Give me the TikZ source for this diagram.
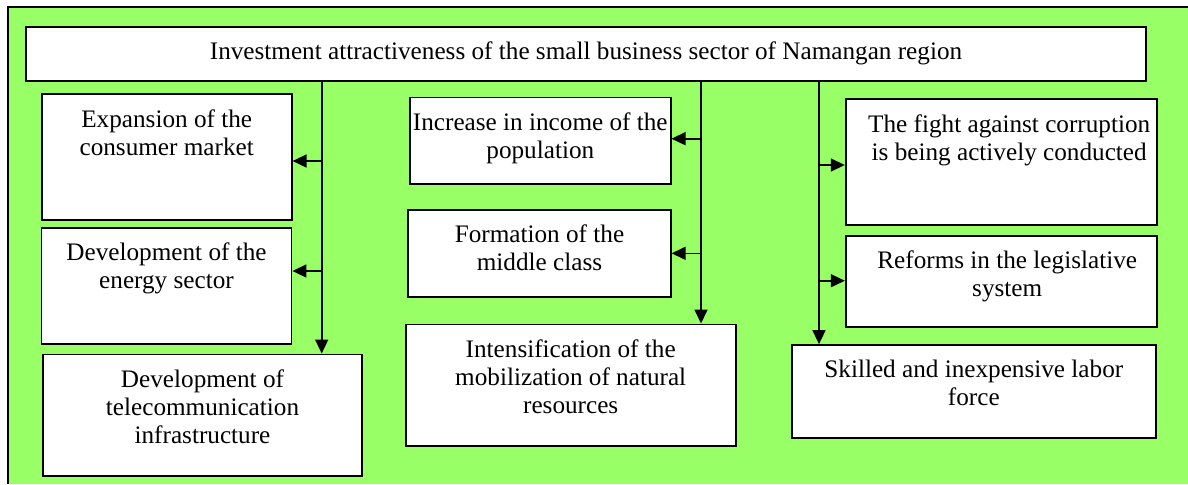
\documentclass[tikz,border=0pt]{standalone}
\usepackage{fontspec}
\setmainfont{Liberation Serif}
\usepackage{xcolor}
\usetikzlibrary{arrows.meta}
\definecolor{bggreen}{HTML}{99FF66}

\tikzset{
  blk/.style={draw, fill=white, line width=0.9pt, inner sep=0pt},
  txt/.style={anchor=north, align=center, inner sep=0pt, yshift=-7.8pt,
    font=\fontsize{12.6}{14}\selectfont},
  arr/.style={line width=0.8pt, -{Triangle[length=7pt,width=6.5pt]}},
}

\begin{document}
\begin{tikzpicture}[x=0.5pt, y=-0.5pt]
        \useasboundingbox (0,0) rectangle (1188,484);
        % green frame
        \fill[bggreen] (8,7) rectangle (1188,484);
        \draw[line width=0.8pt] (8,484) -- (8,7) -- (1188,7);

        % title
        \node[blk, minimum width=560pt, minimum height=27pt,
          label={[txt]north:{Investment attractiveness of the small business sector of Namangan region}}] (top) at (586,53.7) {};

        % left column
        \node[blk, minimum width=125pt, minimum height=63pt,
          label={[txt]north:{Expansion of the\\consumer market}}] (market) at (166.7,157.2) {};
        \node[blk, minimum width=125pt, minimum height=58.3pt,
          label={[txt]north:{Development of the\\energy sector}}] (energy) at (166.5,286) {};
        \node[blk, minimum width=159.8pt, minimum height=60.8pt,
          label={[txt]north:{Development of\\telecommunication\\infrastructure}}] (telecom) at (202.5,415.2) {};

        % middle column
        \node[blk, minimum width=130.3pt, minimum height=43.3pt,
          label={[txt]north:{Increase in income of the\\population}}] (income) at (540.3,140.7) {};
        \node[blk, minimum width=131.2pt, minimum height=43.3pt,
          label={[txt]north:{Formation of the\\middle class}}] (middle) at (539.5,253.3) {};
        \node[blk, minimum width=165pt, minimum height=60.8pt,
          label={[txt]north:{Intensification of the\\mobilization of natural\\resources}}] (natural) at (570.7,385.2) {};

        % right column
        \node[blk, minimum width=155.5pt, minimum height=62.9pt,
          label={[txt, xshift=4pt]north:{The fight against corruption\\is being actively conducted}}] (corrupt) at (1001.2,162.2) {};
        \node[blk, minimum width=155.5pt, minimum height=45.3pt,
          label={[txt, xshift=3pt]north:{Reforms in the legislative\\system}}] (reforms) at (1001.2,281.3) {};
        \node[blk, minimum width=182.2pt, minimum height=46.5pt,
          label={[txt]north:{Skilled and inexpensive labor\\force}}] (labor) at (973.8,391.5) {};

        % branch points
        \coordinate (l1) at (321.7,161);
        \coordinate (l2) at (321.7,271);
        \coordinate (m1) at (701,138.7);
        \coordinate (m2) at (701,253.3);
        \coordinate (r1) at (819,165);
        \coordinate (r2) at (819,280.7);

        \draw[arr] (top.south -| l1) -- (telecom.north -| l1);
        \draw[arr] (l1) -- (market.east |- l1);
        \draw[arr] (l2) -- (energy.east |- l2);

        \draw[arr] (top.south -| m1) -- (natural.north -| m1);
        \draw[arr] (m1) -- (income.east |- m1);
        \draw[arr] (m2) -- (middle.east |- m2);

        \draw[arr] (top.south -| r1) -- (labor.north -| r1);
        \draw[arr] (r1) -- (corrupt.west |- r1);
        \draw[arr] (r2) -- (reforms.west |- r2);
\end{tikzpicture}
\end{document}
